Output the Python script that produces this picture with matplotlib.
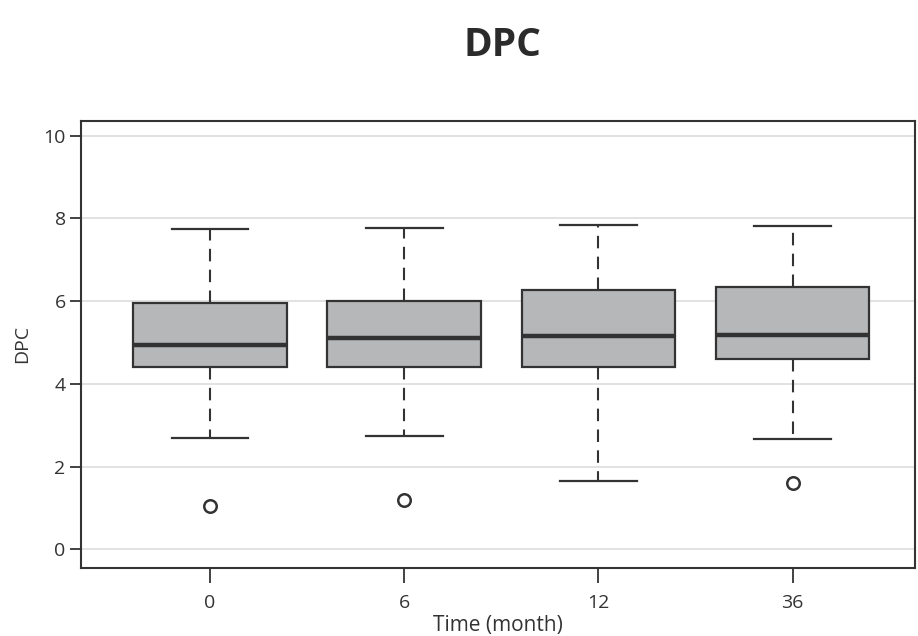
import matplotlib
matplotlib.use("Agg")
import matplotlib.pyplot as plt

categories = ["0", "6", "12", "36"]
whislo = [2.68, 2.74, 1.66, 2.66]
q1 = [4.40, 4.41, 4.41, 4.61]
med = [4.93, 5.11, 5.16, 5.18]
q3 = [5.96, 6.00, 6.27, 6.33]
whishi = [7.75, 7.77, 7.83, 7.82]
outliers = [[1.05], [1.19], [], [1.61]]

plt.rcParams['font.family'] = ['Open Sans', 'DejaVu Sans']

fig = plt.figure(figsize=(9.18, 6.36), dpi=100)
ax = fig.add_axes([0.0882, 0.1074, 0.9085, 0.7023])

stats = []
for i, c in enumerate(categories):
    stats.append(dict(label=c, whislo=whislo[i], q1=q1[i], med=med[i],
                      q3=q3[i], whishi=whishi[i], fliers=outliers[i]))

edge = '#333333'
ax.bxp(stats, positions=range(len(categories)), widths=0.79,
       patch_artist=True, showfliers=True,
       boxprops=dict(facecolor='#b6b7b9', edgecolor=edge, linewidth=1.6),
       medianprops=dict(color=edge, linewidth=3.2),
       whiskerprops=dict(color=edge, linewidth=1.5, linestyle=(0, (6, 4))),
       capprops=dict(color=edge, linewidth=1.6),
       capwidths=0.395,
       flierprops=dict(marker='o', markersize=9, markerfacecolor='white',
                       markeredgecolor=edge, markeredgewidth=1.8),
       zorder=3)

ax.set_xlim(-0.664, 3.63)
ax.set_ylim(-0.445, 10.355)
ax.set_yticks([0, 2, 4, 6, 8, 10])
ax.yaxis.grid(True, color='#dddddd', linewidth=1.2, zorder=0)
ax.set_axisbelow(True)

for s in ax.spines.values():
    s.set_color(edge)
    s.set_linewidth(1.5)

ax.tick_params(axis='y', length=8, width=1.3, color=edge, labelcolor='#333333',
               labelsize=14, pad=3)
ax.tick_params(axis='x', length=11, width=1.3, color=edge, labelcolor='#333333',
               labelsize=14, pad=8)

ax.set_xlabel("Time (month)", fontsize=15, color='#333333', labelpad=2)
ax.set_ylabel("DPC", fontsize=14, color='#333333', labelpad=9)

fig.text(0.547, 0.928, "DPC", ha='center', va='center', fontsize=28,
         fontweight='bold', color='#2b2b2b')

fig.savefig("out.png", dpi=100)
